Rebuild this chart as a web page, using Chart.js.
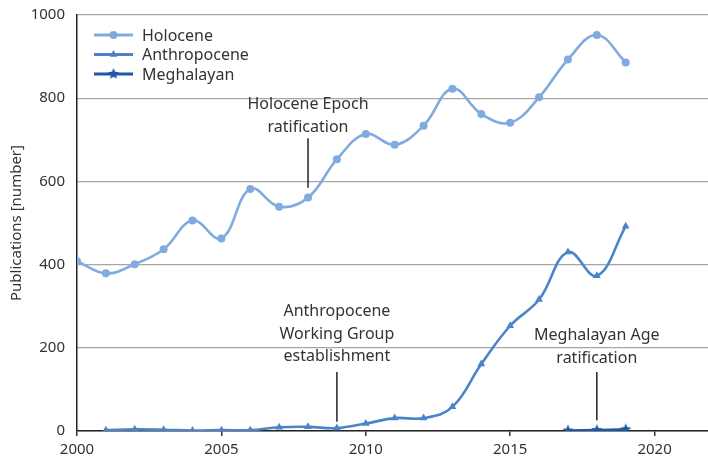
<!DOCTYPE html>
<html>
<head>
<meta charset="utf-8">
<script src="https://cdn.jsdelivr.net/npm/chart.js@4/dist/chart.umd.min.js"></script>
<style>
  body { margin: 0; background: #fff; }
  #wrap { width: 708px; height: 456px; }
</style>
</head>
<body>
<div id="wrap"><canvas id="myChart" width="708" height="456"></canvas></div>
<script>
'use strict';

// data
const years = [ 2000, 2001, 2002, 2003, 2004, 2005, 2006, 2007, 2008, 2009, 2010, 2011, 2012, 2013, 2014, 2015, 2016, 2017, 2018, 2019 ];
const holocene = [ 408, 379, 401, 437, 506, 463, 582, 539, 561, 653, 714, 688, 734, 823, 762, 741, 802, 893, 952, 886 ];
const anthropocene = [ null, 2, 4, 3, 1, 2, 2, 9, 10, 7, 18, 31, 31, 58, 161, 253, 316, 430, 373, 492 ];
const meghalayan = [ null, null, null, null, null, null, null, null, null, null, null, null, null, null, null, null, null, 1, 2, 4 ];
const xTicks = [ 2000, 2005, 2010, 2015, 2020 ];
const yTicks = [ 0, 200, 400, 600, 800, 1000 ];

const seriesNames = [ 'Holocene', 'Anthropocene', 'Meghalayan' ];
const seriesColors = [ '#80abdf', '#4a84ca', '#1d59a6' ];

const annotations = [
  { year: 2008, lines: [ 'Holocene Epoch', 'ratification' ], textValue: 784, top: 704, bottom: 585 },
  { year: 2009, lines: [ 'Anthropocene', 'Working Group', 'establishment' ], textValue: 287, top: 142, bottom: 22 },
  { year: 2018, lines: [ 'Meghalayan Age', 'ratification' ], textValue: 229, top: 142, bottom: 26 }
];

const fontFamily = '"Noto Sans", sans-serif';
const textColor = '#333333';

function toPoints( values ) {
  let pts = [];
  for ( let i = 0; i < years.length; i++ ) {
    if ( values[i] !== null ) {
      pts.push( { x: years[i], y: values[i] } );
    }
  }
  return pts;
}

// filled five point star for the Meghalayan markers
function makeStar( color, r ) {
  let c = document.createElement( 'canvas' );
  c.width = r * 2 + 2;
  c.height = r * 2 + 2;
  let g = c.getContext( '2d' );
  g.fillStyle = color;
  g.beginPath();
  for ( let i = 0; i < 10; i++ ) {
    let rad = i % 2 === 0 ? r : r * 0.45;
    let a = -Math.PI / 2 + i * Math.PI / 5;
    let px = r + 1 + rad * Math.cos( a );
    let py = r + 1 + rad * Math.sin( a );
    if ( i === 0 ) g.moveTo( px, py ); else g.lineTo( px, py );
  }
  g.closePath();
  g.fill();
  return c;
}

const starImg = makeStar( seriesColors[2], 6 );
const pointStyles = [ 'circle', 'triangle', starImg ];
const pointRadii = [ 4, 4.5, 6 ];

const insideLegend = {
  id: 'insideLegend',
  afterDraw( chart ) {
    const ctx = chart.ctx;
    ctx.save();
    for ( let i = 0; i < seriesNames.length; i++ ) {
      let y = 35 + i * 19.5;
      ctx.strokeStyle = seriesColors[i];
      ctx.lineWidth = 3;
      ctx.beginPath();
      ctx.moveTo( 94, y );
      ctx.lineTo( 133, y );
      ctx.stroke();
      ctx.fillStyle = seriesColors[i];
      Chart.helpers.drawPoint( ctx, {
        pointStyle: pointStyles[i],
        radius: pointRadii[i],
        borderWidth: 0,
        rotation: 0
      }, 113.5, y );
      ctx.fillStyle = textColor;
      ctx.font = '16px ' + fontFamily;
      ctx.textAlign = 'left';
      ctx.textBaseline = 'middle';
      ctx.fillText( seriesNames[i], 142, y + 1 );
    }
    ctx.restore();
  }
};

const notes = {
  id: 'notes',
  afterDatasetsDraw( chart ) {
    const ctx = chart.ctx;
    const xs = chart.scales.x;
    const ys = chart.scales.y;
    ctx.save();
    for ( let a of annotations ) {
      let x = xs.getPixelForValue( a.year );
      ctx.strokeStyle = '#222';
      ctx.lineWidth = 1.5;
      ctx.beginPath();
      ctx.moveTo( x, ys.getPixelForValue( a.top ) );
      ctx.lineTo( x, ys.getPixelForValue( a.bottom ) );
      ctx.stroke();
      ctx.fillStyle = textColor;
      ctx.font = '16px ' + fontFamily;
      ctx.textAlign = 'center';
      ctx.textBaseline = 'middle';
      let y0 = ys.getPixelForValue( a.textValue );
      for ( let k = 0; k < a.lines.length; k++ ) {
        ctx.fillText( a.lines[k], x, y0 + k * 22.5 );
      }
    }
    ctx.restore();
  }
};

const datasets = [ holocene, anthropocene, meghalayan ].map( ( vals, i ) => ( {
  label: seriesNames[i],
  data: toPoints( vals ),
  borderColor: seriesColors[i],
  backgroundColor: seriesColors[i],
  borderWidth: 2.6,
  pointStyle: pointStyles[i],
  pointRadius: pointRadii[i],
  pointBorderWidth: 0,
  tension: 0.4,
  order: 3 - i
} ) );

const ctx = document.getElementById( 'myChart' ).getContext( '2d' );
const myChart = new Chart( ctx, {
  type: 'line',
  data: { datasets: datasets },
  plugins: [ insideLegend, notes ],
  options: {
    responsive: false,
    animation: false,
    layout: { autoPadding: false, padding: { top: 15, right: 0, bottom: 0, left: 0 } },
    plugins: { legend: { display: false }, tooltip: { enabled: false } },
    scales: {
      x: {
        type: 'linear',
        min: 2000,
        max: 2021.85,
        afterBuildTicks( scale ) {
          scale.ticks = xTicks.map( v => ( { value: v } ) );
        },
        afterFit( scale ) {
          scale.height = 25;
          scale.paddingRight = 0;
          scale.paddingLeft = 0;
        },
        grid: { drawOnChartArea: false, drawTicks: true, tickLength: 5, color: '#333', lineWidth: 1.5 },
        border: { color: '#222', width: 1.5 },
        ticks: {
          color: textColor,
          font: { family: fontFamily, size: 15 },
          padding: 5,
          maxRotation: 0,
          callback: v => String( v )
        }
      },
      y: {
        min: 0,
        max: 1000,
        afterBuildTicks( scale ) {
          scale.ticks = yTicks.map( v => ( { value: v } ) );
        },
        afterFit( scale ) {
          scale.width = 77;
          scale.paddingTop = 0;
          scale.paddingBottom = 0;
        },
        grid: { drawTicks: false, color: '#a6a6a6', lineWidth: 1.2 },
        border: { color: '#222', width: 1.5 },
        ticks: {
          color: textColor,
          font: { family: fontFamily, size: 15 },
          padding: 12,
          callback: v => String( v )
        },
        title: {
          display: true,
          text: 'Publications [number]',
          color: textColor,
          font: { family: fontFamily, size: 15 },
          padding: { top: 8, bottom: 0 }
        }
      }
    }
  }
} );
</script>
</body>
</html>
